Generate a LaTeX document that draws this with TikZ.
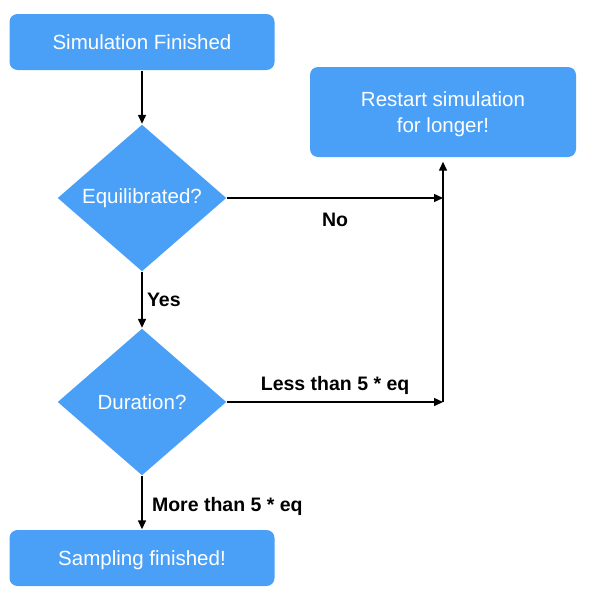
\documentclass[tikz,border=0pt]{standalone}
\usepackage{fontspec}
\setmainfont{Liberation Sans}
\usepackage{tikz}
\usetikzlibrary{arrows.meta,positioning,shapes.geometric}
\definecolor{col1}{RGB}{74,160,247}
\tikzstyle{step box}=[fill=col1, text=white, rounded corners=8pt, align=center, text depth=0pt, minimum width=265pt, minimum height=56pt]
\tikzstyle{decision}=[diamond, fill=col1, text=white, inner sep=0pt, aspect=1.15, minimum width=169pt, minimum height=147pt]
\tikzstyle{lbl}=[font=\fontsize{19.5}{22}\selectfont\bfseries]

\begin{document}
\begin{tikzpicture}[node distance=156pt,>={Triangle[length=9pt,width=8pt]},line width=1.4pt,font=\fontsize{20.5}{26}\selectfont]
    \useasboundingbox (0pt,0pt) rectangle (594pt,-597pt);
    \node [step box] (start) at (142pt,-42pt) {Simulation Finished};
    \node [decision] (eq) [below of=start] {Equilibrated?};
    \node [decision] (dur) [below of=eq,node distance=204pt] {Duration?};
    \node [step box] (samp) [below of=dur] {Sampling finished!};
    \node [step box, minimum width=266pt, minimum height=90pt] (restart) at (443pt,-112pt) {Restart simulation\\for longer!};
    \coordinate (j1) at (eq.east -| restart.south);
    \coordinate (j2) at (dur.east -| restart.south);
    \path[->]
    (start) edge (eq)
    (eq) edge node [lbl, right, xshift=1pt] {Yes} (dur)
    (dur) edge node [lbl, right, xshift=6pt, yshift=-4pt] {More than 5 * eq} (samp)
    (eq) edge node [lbl, below, yshift=-11pt] {No} (j1)
    (dur) edge node [lbl, above, yshift=3pt] {Less than 5 * eq} (j2);
    \draw[->] (j2) -- ([yshift=-4pt]restart.south);
\end{tikzpicture}
\end{document}
